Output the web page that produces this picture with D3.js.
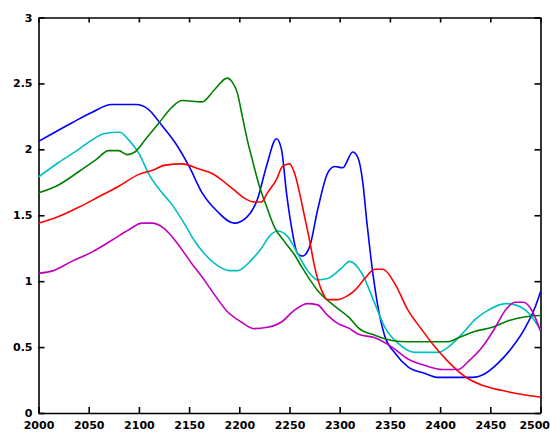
<!DOCTYPE html>
<html>
<head>
<meta charset="utf-8">
<script src="https://cdn.jsdelivr.net/npm/d3@7"></script>
<style>
  body { margin: 0; background: #fff; }
  svg { display: block; }
  .axis text { font-family: "DejaVu Sans", sans-serif; font-weight: bold; font-size: 11px; fill: #000; }
  .axis path, .axis line { stroke: #000; stroke-width: 1.6; }
</style>
</head>
<body>
<svg width="550" height="433"></svg>
<script>
// tick values
const xTicks = [2000, 2050, 2100, 2150, 2200, 2250, 2300, 2350, 2400, 2450, 2500];
const yTicks = [0, 0.5, 1, 1.5, 2, 2.5, 3];

// series
const blueX = [2000, 2033, 2053, 2073, 2097, 2110, 2123, 2137, 2150, 2163, 2178, 2195, 2208, 2218, 2227, 2237, 2242, 2247, 2252, 2258, 2263, 2270, 2278, 2288, 2295, 2303, 2313, 2318, 2323, 2327, 2331, 2338, 2345, 2355, 2368, 2385, 2398, 2432, 2445, 2458, 2472, 2485, 2495, 2500];
const blueY = [2.06, 2.20, 2.28, 2.34, 2.34, 2.30, 2.18, 2.04, 1.87, 1.67, 1.53, 1.44, 1.49, 1.62, 1.87, 2.08, 2.00, 1.67, 1.41, 1.21, 1.19, 1.26, 1.54, 1.82, 1.87, 1.86, 1.98, 1.94, 1.75, 1.45, 1.18, 0.81, 0.58, 0.455, 0.35, 0.30, 0.27, 0.27, 0.30, 0.38, 0.50, 0.65, 0.81, 0.92];

const cyanX = [2000, 2020, 2040, 2053, 2066, 2081, 2090, 2100, 2110, 2122, 2132, 2145, 2155, 2165, 2178, 2190, 2198, 2212, 2222, 2230, 2238, 2248, 2258, 2268, 2278, 2288, 2302, 2310, 2322, 2335, 2345, 2358, 2375, 2398, 2408, 2422, 2435, 2448, 2465, 2475, 2485, 2495, 2500];
const cyanY = [1.79, 1.90, 2.00, 2.07, 2.12, 2.13, 2.07, 1.97, 1.81, 1.68, 1.59, 1.44, 1.31, 1.21, 1.12, 1.08, 1.08, 1.16, 1.25, 1.34, 1.38, 1.34, 1.21, 1.08, 1.01, 1.02, 1.10, 1.15, 1.06, 0.83, 0.65, 0.53, 0.46, 0.46, 0.50, 0.60, 0.71, 0.78, 0.83, 0.82, 0.78, 0.69, 0.63];

const greenX = [2000, 2020, 2040, 2057, 2070, 2080, 2088, 2096, 2107, 2120, 2133, 2143, 2163, 2175, 2188, 2193, 2198, 2203, 2208, 2213, 2220, 2227, 2235, 2245, 2255, 2262, 2278, 2295, 2310, 2318, 2335, 2352, 2368, 2408, 2418, 2435, 2452, 2468, 2485, 2500];
const greenY = [1.67, 1.73, 1.83, 1.92, 1.99, 1.99, 1.96, 1.98, 2.08, 2.20, 2.32, 2.37, 2.36, 2.45, 2.54, 2.51, 2.43, 2.25, 2.07, 1.92, 1.72, 1.57, 1.41, 1.30, 1.20, 1.11, 0.93, 0.81, 0.72, 0.65, 0.59, 0.55, 0.54, 0.54, 0.57, 0.62, 0.65, 0.70, 0.73, 0.74];

const redX = [2000, 2020, 2040, 2060, 2080, 2100, 2113, 2126, 2143, 2160, 2172, 2182, 2195, 2205, 2215, 2222, 2228, 2237, 2243, 2250, 2255, 2260, 2265, 2270, 2275, 2282, 2288, 2298, 2308, 2315, 2325, 2335, 2343, 2355, 2368, 2382, 2395, 2408, 2425, 2442, 2462, 2482, 2500];
const redY = [1.44, 1.49, 1.56, 1.64, 1.72, 1.81, 1.84, 1.88, 1.89, 1.85, 1.82, 1.77, 1.69, 1.63, 1.60, 1.60, 1.67, 1.77, 1.87, 1.89, 1.82, 1.67, 1.49, 1.31, 1.11, 0.93, 0.86, 0.86, 0.89, 0.93, 1.02, 1.09, 1.09, 0.98, 0.78, 0.63, 0.50, 0.39, 0.275, 0.21, 0.17, 0.14, 0.12];

const magentaX = [2000, 2015, 2033, 2053, 2073, 2090, 2103, 2113, 2125, 2138, 2152, 2165, 2175, 2188, 2202, 2215, 2228, 2242, 2255, 2268, 2278, 2288, 2298, 2310, 2318, 2335, 2352, 2368, 2385, 2402, 2418, 2428, 2442, 2455, 2465, 2475, 2483, 2492, 2500];
const magentaY = [1.06, 1.08, 1.15, 1.22, 1.31, 1.39, 1.44, 1.44, 1.40, 1.29, 1.14, 1.01, 0.90, 0.77, 0.69, 0.64, 0.65, 0.69, 0.78, 0.83, 0.82, 0.74, 0.68, 0.64, 0.60, 0.57, 0.50, 0.41, 0.36, 0.33, 0.33, 0.39, 0.50, 0.65, 0.78, 0.84, 0.84, 0.77, 0.62];

const series = [
  { xs: blueX, ys: blueY, color: "#0000ff" },
  { xs: cyanX, ys: cyanY, color: "#00bfbf" },
  { xs: greenX, ys: greenY, color: "#008000" },
  { xs: redX, ys: redY, color: "#ff0000" },
  { xs: magentaX, ys: magentaY, color: "#bf00bf" }
];

const svg = d3.select("svg");
const plot = { left: 38.5, right: 540.5, top: 17.5, bottom: 413 };

const x = d3.scaleLinear().domain([2000, 2500]).range([plot.left, plot.right]);
const y = d3.scaleLinear().domain([0, 3]).range([plot.bottom, plot.top]);

// box with inward ticks on all four sides
const xAxisG = svg.append("g").attr("class", "axis")
  .attr("transform", `translate(0,${plot.bottom})`)
  .call(d3.axisBottom(x).tickValues(xTicks).tickFormat(d3.format("d")).tickSizeInner(-6).tickSizeOuter(0).tickPadding(8));

// last label would run past the right edge, so pull it in
xAxisG.selectAll(".tick text").filter(d => d === 2500).attr("text-anchor", "end").attr("dx", "9");

svg.append("g").attr("class", "axis")
  .attr("transform", `translate(0,${plot.top})`)
  .call(d3.axisTop(x).tickValues(xTicks).tickFormat("").tickSizeInner(-5).tickSizeOuter(0));

svg.append("g").attr("class", "axis")
  .attr("transform", `translate(${plot.left},0)`)
  .call(d3.axisLeft(y).tickValues(yTicks).tickFormat(d3.format("")).tickSizeInner(-6).tickSizeOuter(0).tickPadding(6));

svg.append("g").attr("class", "axis")
  .attr("transform", `translate(${plot.right},0)`)
  .call(d3.axisRight(y).tickValues(yTicks).tickFormat("").tickSizeInner(-6).tickSizeOuter(0));

svg.selectAll(".axis .domain").attr("stroke-width", 1.8);

// curves
const line = d3.line()
  .x(d => x(d[0]))
  .y(d => y(d[1]))
  .curve(d3.curveMonotoneX);

svg.append("g")
  .selectAll("path")
  .data(series)
  .join("path")
  .attr("fill", "none")
  .attr("stroke", d => d.color)
  .attr("stroke-width", 1.6)
  .attr("d", d => line(d.xs.map((v, i) => [v, d.ys[i]])));
</script>
</body>
</html>
